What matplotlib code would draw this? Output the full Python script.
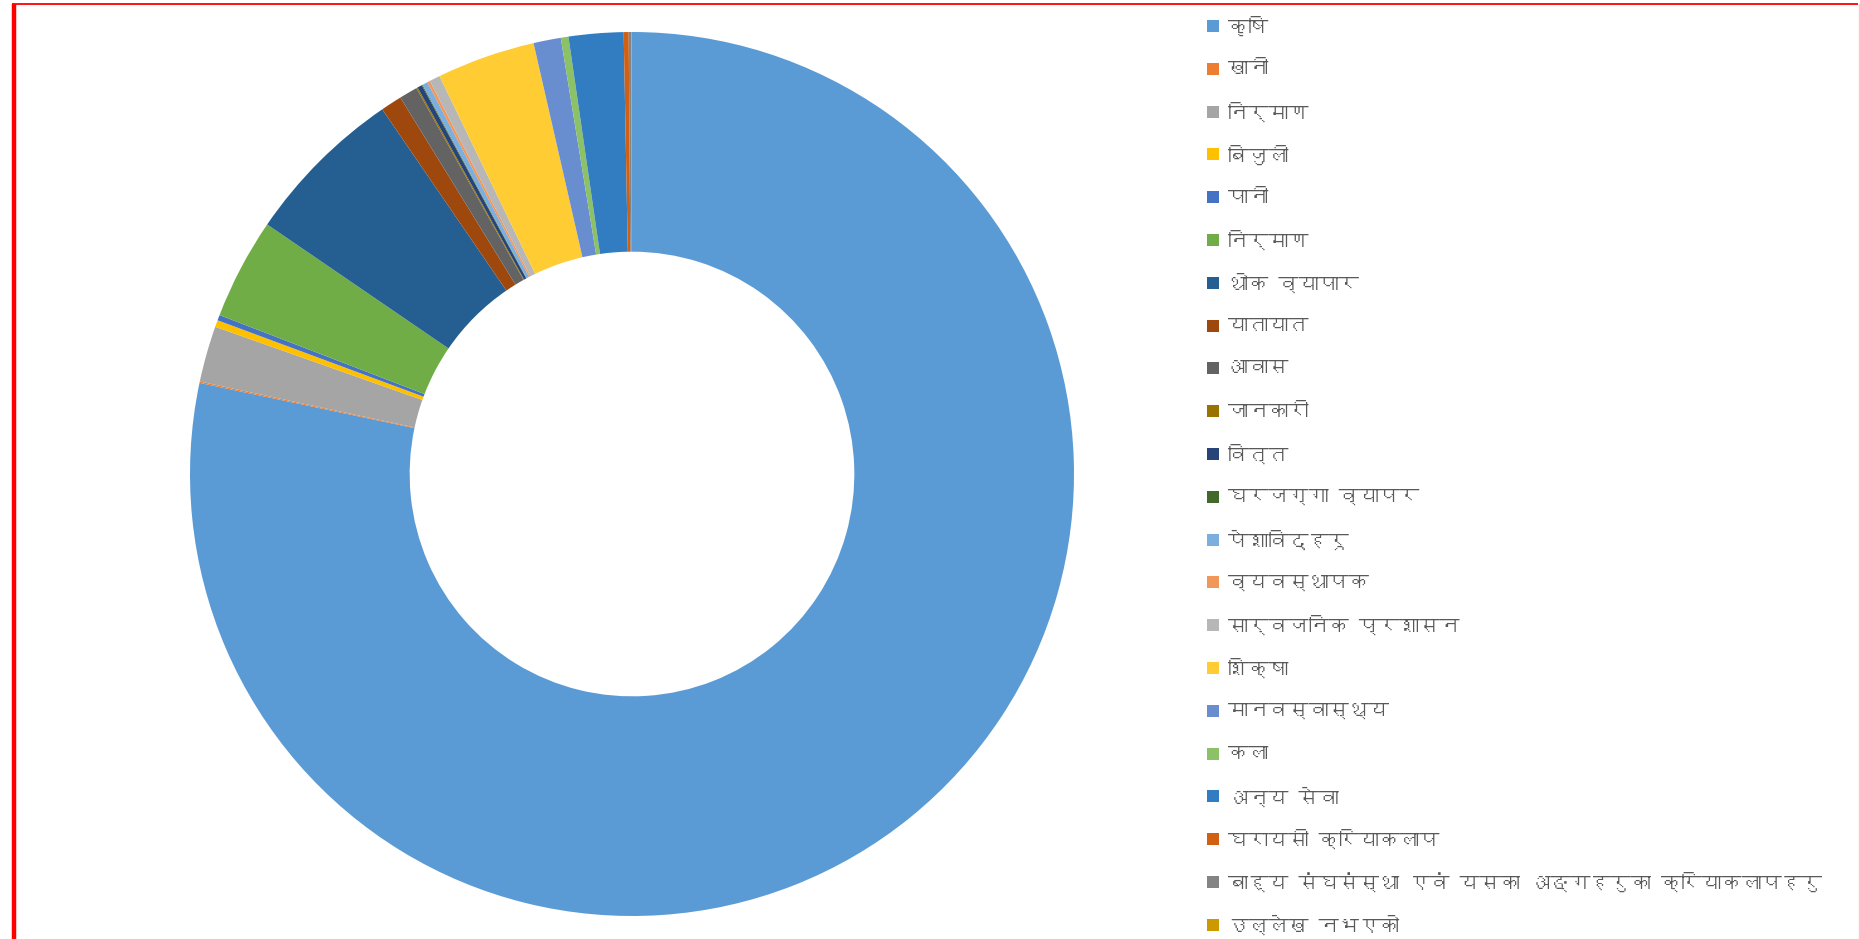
import matplotlib
matplotlib.use("Agg")
import matplotlib.pyplot as plt
from matplotlib import font_manager
from matplotlib.ft2font import FT2Font
from matplotlib.patches import Rectangle

# sector labels (legend order = slice order, clockwise from 12 o'clock)
sectors = [
    "कृषि", "खानी", "निर्माण", "बिजुली", "पानी", "निर्माण", "थोक व्यापार",
    "यातायात", "आवास", "जानकारी", "वित्त", "घरजग्गा व्यापर", "पेशाविद्हरू",
    "व्यवस्थापक", "सार्वजनिक प्रशासन", "शिक्षा", "मानवस्वास्थ्य", "कला",
    "अन्य सेवा", "घरायसी क्रियाकलाप",
    "बाह्य संघसंस्था एवं यसका अङ्गहरुका क्रियाकलापहरु", "उल्लेख नभएको",
]
# share in percent
shares = [
    78.4, 0.05, 2.05, 0.25, 0.2, 3.7, 5.9,
    0.78, 0.67, 0.05, 0.17, 0.03, 0.2,
    0.1, 0.39, 3.6, 1.0, 0.28,
    2.0, 0.18, 0.1, 0.02,
]
colors = [
    "#5B9BD5", "#ED7D31", "#A5A5A5", "#FFC000", "#4472C4", "#70AD47", "#255E91",
    "#9E480E", "#636363", "#997300", "#264478", "#43682B", "#7CAFDD",
    "#F1975A", "#B7B7B7", "#FFCD33", "#698ED0", "#8CC168",
    "#327DC2", "#D26012", "#848484", "#CC9A00",
]


def find_devanagari_font():
    # look for any installed font that has Devanagari glyphs
    for path in sorted(font_manager.findSystemFonts()):
        try:
            ft = FT2Font(path)
            if ft.get_char_index(0x0915) and ft.get_char_index(0x093F):
                return font_manager.FontProperties(fname=path).get_name()
        except Exception:
            continue
    return None


deva = find_devanagari_font()
families = [deva, "DejaVu Sans"] if deva else ["DejaVu Sans"]
plt.rcParams["font.family"] = families

W, H = 1860, 939
fig = plt.figure(figsize=(W / 100, H / 100), dpi=100)
ax = fig.add_axes([0, 0, 1, 1])

cx, cy, r = 632, H - 474, 442
ax.pie(shares, colors=colors, startangle=90, counterclock=False,
       center=(cx, cy), radius=r, frame=True,
       wedgeprops=dict(width=r * 0.497, linewidth=0))

# legend, drawn row by row in pixel coordinates
y0, step = 26, 42.8
for i, (name, col) in enumerate(zip(sectors, colors)):
    y = H - (y0 + i * step)
    ax.add_patch(Rectangle((1207, y - 6), 12, 12, facecolor=col, edgecolor="none"))
    ax.text(1228, y, name, fontsize=14.5, color="#595959", va="center", ha="left")

# red frame around the chart area
ax.plot([13.5, 13.5], [0, H - 4], color="red", lw=3.2, solid_capstyle="butt")
ax.plot([12, W - 2], [H - 4, H - 4], color="red", lw=1.3, solid_capstyle="butt")
ax.plot([W - 1.5, W - 1.5], [0, H - 4], color="#FFC8C8", lw=1.0)

ax.set_xlim(0, W)
ax.set_ylim(0, H)
ax.set_aspect("auto")
ax.axis("off")

fig.savefig("out.png", dpi=100, facecolor="white")
